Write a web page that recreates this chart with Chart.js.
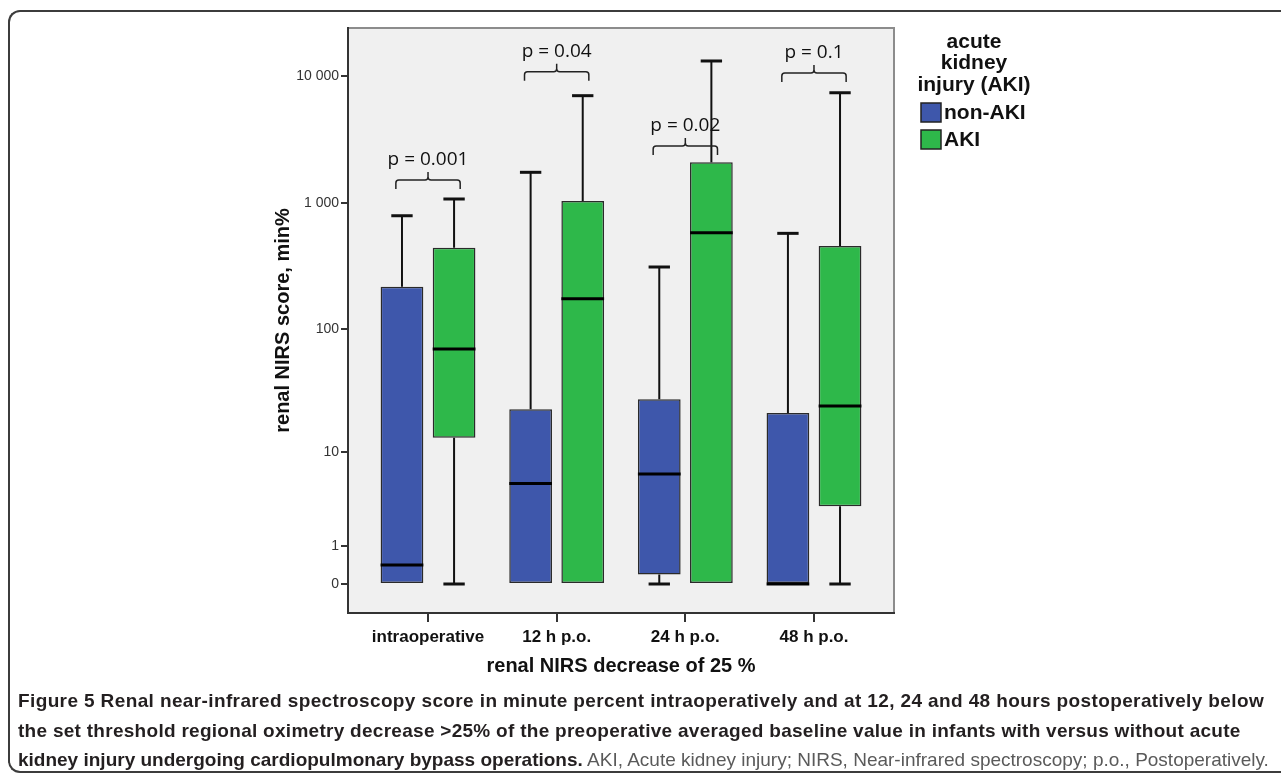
<!DOCTYPE html>
<html>
<head>
<meta charset="utf-8">
<script src="https://cdn.jsdelivr.net/npm/chart.js@4.4.1/dist/chart.umd.min.js"></script>
<style>
    html, body { margin: 0; padding: 0; background: #fff; }
    body { width: 1281px; height: 774px; position: relative; overflow: hidden; }
    #moldura {
        position: absolute; left: 8px; top: 10px; width: 1320px; height: 759px;
        border: 2px solid #3c3c3c; border-right: none; border-radius: 12px 0 0 12px;
    }
    #grafico { position: absolute; left: 0; top: 0; }
    #legenda {
        position: absolute; left: 18px; top: 686px; white-space: nowrap;
        font-family: 'Liberation Sans', sans-serif;
        font-size: 19px; line-height: 29.5px; color: #231f20;
    }
    #legenda b { font-weight: bold; }
    #legenda .l1 { letter-spacing: 0.38px; }
    #legenda .l2 { letter-spacing: 0.28px; }
    #legenda .abrev { color: #5a5a5a; }
</style>
</head>
<body>
<div id="moldura"></div>
<canvas id="grafico" width="1281" height="690"></canvas>
<div id="legenda">
    <b class="l1">Figure 5 Renal near-infrared spectroscopy score in minute percent intraoperatively and at 12, 24 and 48 hours postoperatively below</b><br>
    <b class="l2">the set threshold regional oximetry decrease &gt;25% of the preoperative averaged baseline value in infants with versus without acute</b><br>
    <b>kidney injury undergoing cardiopulmonary bypass operations.</b> <span class="abrev">AKI, Acute kidney injury; NIRS, Near-infrared spectroscopy; p.o., Postoperatively.</span>
</div>
<script>
// categorias do eixo x
const categorias = ['intraoperative', '12 h p.o.', '24 h p.o.', '48 h p.o.'];
const nomesSeries = ['non-AKI', 'AKI'];

// resumo dos boxplots (min, q1, mediana, q3, max)
const nonAkiMin = [0, 0, 0, 0];
const nonAkiQ1 = [0, 0, 0.19, 0];
const nonAkiMediana = [0.41, 5.2, 6.35, 0];
const nonAkiQ3 = [218, 22.8, 27.5, 21.2];
const nonAkiMax = [793, 1744, 312, 576];

const akiMin = [0, 0, 0, 0];
const akiQ1 = [13.2, 0, 0, 3.09];
const akiMediana = [69.8, 175.5, 582.6, 24.2];
const akiQ3 = [444, 1036, 2089, 457.6];
const akiMax = [1074, 7000, 13130, 7389];

// ticks do eixo y
const ticksY = [0, 1, 10, 100, 1000, 10000];
const rotulosY = ['0', '1', '10', '100', '1 000', '10 000'];

// valores p por categoria
const valoresP = ['p = 0.001', 'p = 0.04', 'p = 0.02', 'p = 0.1'];

// altura das chaves (em unidades do eixo)
const alturaChaves = [3.181, 4.034, 3.449, 4.024];

const corNonAki = 'rgb(62, 87, 171)';
const corAki = 'rgb(46, 184, 74)';

// eixo y em log10(x + 1)
function escala(v) {
    return Math.log10(v + 1);
}

const resumo = [
    { min: nonAkiMin, q1: nonAkiQ1, mediana: nonAkiMediana, q3: nonAkiQ3, max: nonAkiMax },
    { min: akiMin, q1: akiQ1, mediana: akiMediana, q3: akiQ3, max: akiMax }
];

function caixas(s) {
    return categorias.map((c, i) => ({ x: i, y: [escala(resumo[s].q1[i]), escala(resumo[s].q3[i])] }));
}

const fonteTexto = 'Liberation Sans';

// fundo cinza e bordas do painel
const pluginFundo = {
    id: 'fundo',
    beforeDraw(chart) {
        const a = chart.chartArea;
        const ctx = chart.ctx;
        ctx.save();
        ctx.fillStyle = '#f0f0f0';
        ctx.fillRect(a.left, a.top, a.right - a.left, a.bottom - a.top);
        ctx.strokeStyle = '#8c8c8c';
        ctx.lineWidth = 2;
        ctx.beginPath();
        ctx.moveTo(a.left, a.top);
        ctx.lineTo(a.right, a.top);
        ctx.lineTo(a.right, a.bottom);
        ctx.stroke();
        ctx.restore();
    }
};

// bigodes e medianas
const pluginBigodes = {
    id: 'bigodes',
    afterDatasetsDraw(chart) {
        const ctx = chart.ctx;
        const y = chart.scales.y;
        ctx.save();
        resumo.forEach((serie, d) => {
            const meta = chart.getDatasetMeta(d);
            meta.data.forEach((barra, i) => {
                const x = barra.x;
                const w = barra.width;
                const pMin = y.getPixelForValue(escala(serie.min[i]));
                const pQ1 = y.getPixelForValue(escala(serie.q1[i]));
                const pQ3 = y.getPixelForValue(escala(serie.q3[i]));
                const pMax = y.getPixelForValue(escala(serie.max[i]));
                const pMed = y.getPixelForValue(escala(serie.mediana[i]));
                const temMin = serie.min[i] < serie.q1[i];

                ctx.strokeStyle = '#111';
                ctx.lineWidth = 2;
                ctx.beginPath();
                ctx.moveTo(x, pQ3);
                ctx.lineTo(x, pMax);
                if (temMin) {
                    ctx.moveTo(x, pQ1);
                    ctx.lineTo(x, pMin);
                }
                ctx.stroke();

                ctx.lineWidth = 3;
                ctx.beginPath();
                ctx.moveTo(x - w / 4, pMax);
                ctx.lineTo(x + w / 4, pMax);
                if (temMin) {
                    ctx.moveTo(x - w / 4, pMin);
                    ctx.lineTo(x + w / 4, pMin);
                }
                ctx.stroke();

                ctx.strokeStyle = '#000';
                ctx.beginPath();
                ctx.moveTo(x - w / 2, pMed);
                ctx.lineTo(x + w / 2, pMed);
                ctx.stroke();
            });
        });
        ctx.restore();
    }
};

// chaves com valores p
const pluginChaves = {
    id: 'chaves',
    afterDatasetsDraw(chart) {
        const ctx = chart.ctx;
        const xs = chart.scales.x;
        const ys = chart.scales.y;
        ctx.save();
        ctx.strokeStyle = '#222';
        ctx.lineWidth = 1.5;
        ctx.fillStyle = '#111';
        ctx.font = '19px "Open Sans"';
        ctx.textAlign = 'center';
        ctx.textBaseline = 'middle';
        valoresP.forEach((txt, i) => {
            const xl = xs.getPixelForValue(i - 0.25);
            const xr = xs.getPixelForValue(i + 0.25);
            const xc = xs.getPixelForValue(i);
            const yb = ys.getPixelForValue(alturaChaves[i]);
            ctx.beginPath();
            ctx.moveTo(xl, yb + 9);
            ctx.lineTo(xl, yb + 3);
            ctx.quadraticCurveTo(xl, yb, xl + 3, yb);
            ctx.lineTo(xc - 3, yb);
            ctx.quadraticCurveTo(xc, yb, xc, yb - 3);
            ctx.lineTo(xc, yb - 8);
            ctx.moveTo(xc, yb - 3);
            ctx.quadraticCurveTo(xc, yb, xc + 3, yb);
            ctx.lineTo(xr - 3, yb);
            ctx.quadraticCurveTo(xr, yb, xr, yb + 3);
            ctx.lineTo(xr, yb + 9);
            ctx.stroke();
            ctx.fillText(txt, xc, yb - 20);
        });
        ctx.restore();
    }
};

// legenda do lado direito
const pluginLegenda = {
    id: 'legendaDireita',
    afterDraw(chart) {
        const ctx = chart.ctx;
        ctx.save();
        ctx.fillStyle = '#111';
        ctx.font = 'bold 21px "' + fonteTexto + '"';
        ctx.textAlign = 'center';
        ctx.textBaseline = 'middle';
        ['acute', 'kidney', 'injury (AKI)'].forEach((linha, k) => {
            ctx.fillText(linha, 974, 42 + k * 21.5);
        });
        ctx.textAlign = 'left';
        chart.data.datasets.forEach((ds, k) => {
            const yc = 112 + k * 27;
            ctx.fillStyle = ds.backgroundColor;
            ctx.fillRect(921, yc - 9, 20, 19);
            ctx.strokeStyle = '#222';
            ctx.lineWidth = 1.5;
            ctx.strokeRect(921, yc - 9, 20, 19);
            ctx.fillStyle = '#111';
            ctx.fillText(ds.label, 944, yc + 1);
        });
        ctx.restore();
    }
};

const config = {
    type: 'bar',
    data: {
        datasets: [
            {
                label: nomesSeries[0],
                data: caixas(0),
                backgroundColor: corNonAki,
                borderColor: '#2a2a2a',
                borderWidth: 1.5,
                borderSkipped: false
            },
            {
                label: nomesSeries[1],
                data: caixas(1),
                backgroundColor: corAki,
                borderColor: '#2a2a2a',
                borderWidth: 1.5,
                borderSkipped: false
            }
        ]
    },
    options: {
        responsive: false,
        animation: false,
        categoryPercentage: 0.81,
        barPercentage: 0.82,
        layout: { padding: { left: 271, right: 387, top: 28, bottom: 12 } },
        plugins: {
            legend: { display: false },
            tooltip: { enabled: false }
        },
        scales: {
            x: {
                type: 'linear',
                offset: false,
                min: -0.622,
                max: 3.622,
                afterBuildTicks(scale) {
                    scale.ticks = categorias.map((c, i) => ({ value: i }));
                },
                afterFit(scale) {
                    scale.height = 65;
                },
                ticks: {
                    autoSkip: false,
                    padding: 5,
                    color: '#111',
                    font: { family: fonteTexto, weight: 'bold', size: 17 },
                    callback: (v) => categorias[v]
                },
                grid: { offset: false, drawOnChartArea: false, drawTicks: true, tickLength: 9, color: '#333', lineWidth: 2 },
                border: { display: true, color: '#333', width: 2 },
                title: {
                    display: true,
                    text: 'renal NIRS decrease of 25 %',
                    color: '#111',
                    padding: 0,
                    font: { family: fonteTexto, weight: 'bold', size: 20 }
                }
            },
            y: {
                type: 'linear',
                min: -0.228,
                max: 4.378,
                afterBuildTicks(scale) {
                    scale.ticks = ticksY.map(v => ({ value: escala(v) }));
                },
                afterFit(scale) {
                    scale.width = 77;
                },
                ticks: {
                    autoSkip: false,
                    padding: 2,
                    color: '#333',
                    font: { family: fonteTexto, size: 14 },
                    callback: (v, i) => rotulosY[i]
                },
                grid: { drawOnChartArea: false, drawTicks: true, tickLength: 7, color: '#333', lineWidth: 2 },
                border: { display: true, color: '#333', width: 2 },
                title: {
                    display: true,
                    text: 'renal NIRS score, min%',
                    color: '#111',
                    padding: 0,
                    font: { family: fonteTexto, weight: 'bold', size: 20 }
                }
            }
        }
    },
    plugins: [pluginFundo, pluginBigodes, pluginChaves, pluginLegenda]
};

const grafico = new Chart(document.getElementById('grafico'), config);
</script>
</body>
</html>
